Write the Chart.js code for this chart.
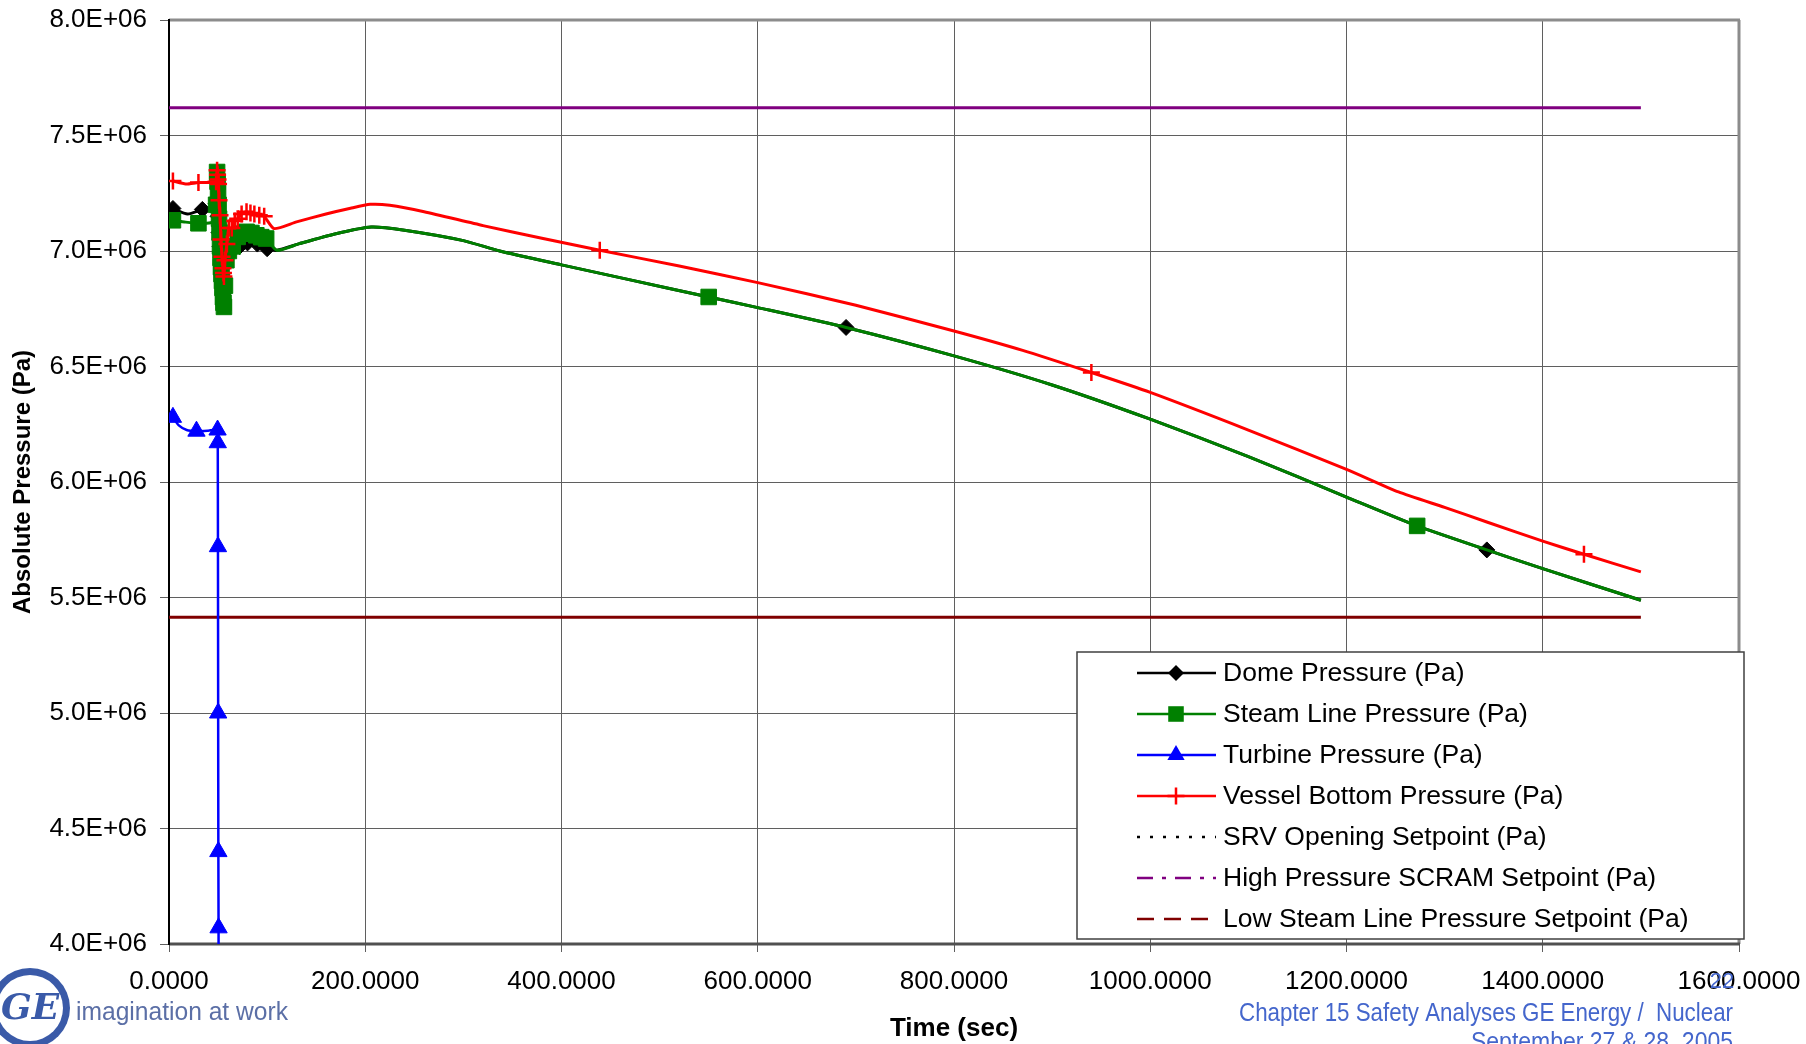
<!DOCTYPE html>
<html>
<head>
<meta charset="utf-8">
<title>Absolute Pressure vs Time</title>
<script src="https://cdn.jsdelivr.net/npm/chart.js@4.4.1/dist/chart.umd.min.js"></script>
<style>
    html, body { margin: 0; padding: 0; background: #fff; }
    #wrap { position: relative; width: 1806px; height: 1044px; overflow: hidden; }
</style>
</head>
<body>
<div id="wrap"><canvas id="pressureChart" width="1806" height="1044"></canvas></div>
<script>
// Data (pressure in units of 1E+06 Pa, time in sec)
// mark = 1 where the original shows a symbol on the sample

const domeTime = [4, 19, 34, 46, 48, 49, 50, 51, 52, 53, 54, 55, 56, 57, 59, 62, 66, 72, 80, 90,
    100, 110, 133, 170, 206, 240, 300, 337, 400, 470, 550, 600, 690, 800, 900, 1000, 1100, 1200, 1272, 1343, 1400, 1500];
const domeMPa = [7.184, 7.160, 7.180, 7.190, 7.205, 7.220, 7.150, 7.080, 7.020, 6.970, 6.946, 6.950, 6.960, 6.970, 6.990, 7.000, 7.010, 7.020, 7.035, 7.030,
    7.010, 7.003, 7.032, 7.075, 7.104, 7.090, 7.045, 7.000, 6.940, 6.875, 6.801, 6.755, 6.669, 6.546, 6.420, 6.272, 6.110, 5.935, 5.810, 5.706, 5.625, 5.488];
const domeMark = [1, 0, 1, 0, 1, 1, 1, 1, 1, 1, 1, 1, 1, 1, 1, 1, 1, 1, 1, 1,
    1, 0, 0, 0, 0, 0, 0, 0, 0, 0, 0, 0, 1, 0, 0, 0, 0, 0, 0, 1, 0, 0];

const steamTime = [4, 17, 30, 44, 48, 49, 49.5, 50, 50.5, 51, 51.5, 52, 52.5, 53, 53.5, 54, 54.5, 55, 55.5, 56,
    57, 58.5, 61, 65, 70, 75, 79, 84, 89, 94, 99, 110, 133, 170, 206, 240, 300, 337, 400, 470,
    550, 600, 690, 800, 900, 1000, 1100, 1200, 1272, 1343, 1400, 1500];
const steamMPa = [7.133, 7.125, 7.120, 7.125, 7.200, 7.342, 7.300, 7.250, 7.200, 7.140, 7.080, 7.020, 6.970, 6.930, 6.900, 6.870, 6.840, 6.800, 6.776, 6.758,
    6.850, 6.960, 7.000, 7.020, 7.061, 7.075, 7.083, 7.078, 7.068, 7.060, 7.054, 7.003, 7.032, 7.075, 7.104, 7.090, 7.045, 7.000, 6.940, 6.875,
    6.801, 6.755, 6.669, 6.546, 6.420, 6.272, 6.110, 5.935, 5.810, 5.706, 5.625, 5.488];
const steamMark = [1, 0, 1, 0, 1, 1, 1, 1, 1, 1, 1, 1, 1, 1, 1, 1, 1, 1, 1, 1,
    1, 1, 1, 1, 1, 1, 1, 1, 1, 1, 1, 0, 0, 0, 0, 0, 0, 0, 0, 0,
    1, 0, 0, 0, 0, 0, 0, 0, 1, 0, 0, 0];

const turbineTime = [4, 10, 18, 28, 40, 49.5, 49.7, 49.9, 50.1, 50.3, 50.5, 50.7];
const turbineMPa = [6.280, 6.245, 6.225, 6.220, 6.222, 6.225, 6.170, 5.720, 5.000, 4.400, 4.070, 3.500];
const turbineMark = [1, 0, 0, 1, 0, 1, 1, 1, 1, 1, 1, 0];

const vesselTime = [4, 17, 30, 44, 48, 49, 49.5, 50, 50.5, 51, 52, 53, 54, 55, 55.5, 56, 57, 59, 61, 64,
    67, 70, 74, 79, 83, 87, 92, 97, 107, 130, 160, 185, 205, 225, 260, 320, 380, 439, 520, 600,
    700, 800, 870, 940, 1000, 1100, 1200, 1253, 1300, 1343, 1400, 1442, 1500];
const vesselMPa = [7.303, 7.290, 7.296, 7.297, 7.300, 7.350, 7.330, 7.310, 7.290, 7.220, 7.155, 7.050, 6.975, 6.925, 6.905, 6.890, 6.960, 7.030, 7.100, 7.100,
    7.130, 7.140, 7.160, 7.170, 7.165, 7.160, 7.155, 7.150, 7.097, 7.126, 7.160, 7.185, 7.202, 7.198, 7.170, 7.110, 7.055, 7.003, 6.935, 6.863,
    6.765, 6.654, 6.570, 6.474, 6.388, 6.225, 6.055, 5.957, 5.890, 5.827, 5.744, 5.687, 5.611];
const vesselMark = [1, 0, 1, 0, 1, 1, 1, 1, 1, 1, 1, 1, 1, 1, 1, 1, 1, 1, 1, 1,
    1, 1, 1, 1, 1, 1, 1, 1, 0, 0, 0, 0, 0, 0, 0, 0, 0, 1, 0, 0,
    0, 0, 0, 1, 0, 0, 0, 0, 0, 0, 0, 1, 0];

// Setpoints (flat lines)
const setpointTime = [0, 1500];
const srvMPa = [8.62, 8.62];          // above the plotted range
const scramMPa = [7.62, 7.62];
const lowSteamMPa = [5.415, 5.415];

// Axes
const xTicks = [0, 200, 400, 600, 800, 1000, 1200, 1400, 1600];
const yTicksMPa = [4.0, 4.5, 5.0, 5.5, 6.0, 6.5, 7.0, 7.5, 8.0];

const FONT = '"Liberation Sans", Arial, sans-serif';
const GRID = '#5f5f5f';

// Build {x, y} points in Pa
function toPoints(times, mpa) {
    return times.map((t, i) => ({ x: t, y: mpa[i] * 1e6 }));
}

function markedRadius(mark, r) {
    return ctx => (mark[ctx.dataIndex] ? r : 0);
}

// Small symbol painter for the legend
function drawMarker(ctx, style, x, y, r, color) {
    ctx.save();
    ctx.fillStyle = color;
    ctx.strokeStyle = color;
    ctx.beginPath();
    if (style === 'rectRot') {
        ctx.moveTo(x - r, y); ctx.lineTo(x, y - r); ctx.lineTo(x + r, y); ctx.lineTo(x, y + r);
        ctx.closePath(); ctx.fill();
    } else if (style === 'rect') {
        const s = r * Math.SQRT1_2;
        ctx.rect(x - s, y - s, 2 * s, 2 * s); ctx.fill();
    } else if (style === 'triangle') {
        const w = r * Math.sin(2 * Math.PI / 3);
        ctx.moveTo(x, y - r); ctx.lineTo(x + w, y + r / 2); ctx.lineTo(x - w, y + r / 2);
        ctx.closePath(); ctx.fill();
    } else if (style === 'cross') {
        ctx.lineWidth = 2.5;
        ctx.moveTo(x - r, y); ctx.lineTo(x + r, y);
        ctx.moveTo(x, y - r); ctx.lineTo(x, y + r);
        ctx.stroke();
    }
    ctx.restore();
}

function strokeLine(ctx, x1, y1, x2, y2) {
    ctx.beginPath();
    ctx.moveTo(x1, y1);
    ctx.lineTo(x2, y2);
    ctx.stroke();
}

// Frame, legend box and slide footer
const pagePlugin = {
    id: 'pagePlugin',
    beforeDatasetsDraw(chart) {
        const { ctx, chartArea: a } = chart;
        ctx.save();
        ctx.strokeStyle = '#8c8c8c';
        ctx.lineWidth = 3;
        strokeLine(ctx, a.left, a.top, a.right + 1, a.top);
        strokeLine(ctx, a.right, a.top, a.right, a.bottom);
        ctx.strokeStyle = '#505050';
        strokeLine(ctx, a.left, a.bottom, a.right + 1, a.bottom);
        ctx.strokeStyle = '#000';
        ctx.lineWidth = 2;
        strokeLine(ctx, a.left, a.top - 1, a.left, a.bottom + 1);
        ctx.restore();
    },
    afterDraw(chart) {
        drawLegend(chart);
        drawFooter(chart);
    }
};

function drawLegend(chart) {
    const ctx = chart.ctx;
    const box = { x: 1077, y: 652, w: 667, h: 287 };
    ctx.save();
    ctx.fillStyle = '#fff';
    ctx.fillRect(box.x, box.y, box.w, box.h);
    ctx.strokeStyle = '#404040';
    ctx.lineWidth = 1.5;
    ctx.strokeRect(box.x, box.y, box.w, box.h);

    chart.data.datasets.forEach((ds, i) => {
        const y = 673 + i * 41;
        ctx.save();
        ctx.strokeStyle = ds.borderColor;
        ctx.lineWidth = 2.5;
        ctx.setLineDash(ds.legendDash || []);
        strokeLine(ctx, 1137, y, 1216, y);
        ctx.restore();
        if (ds.pointStyle) {
            drawMarker(ctx, ds.pointStyle, 1176, y, ds.legendRadius, ds.borderColor);
        }
        ctx.fillStyle = '#000';
        ctx.font = `26.5px ${FONT}`;
        ctx.textBaseline = 'middle';
        ctx.textAlign = 'left';
        ctx.fillText(ds.label, 1223, y + 1);
    });
    ctx.restore();
}

function drawFooter(chart) {
    const ctx = chart.ctx;
    ctx.save();

    // GE monogram
    ctx.beginPath();
    ctx.arc(30, 1008, 40, 0, Math.PI * 2);
    ctx.fillStyle = '#3a5aa8';
    ctx.fill();
    ctx.beginPath();
    ctx.arc(30, 1008, 33, 0, Math.PI * 2);
    ctx.fillStyle = '#fff';
    ctx.fill();
    ctx.fillStyle = '#3a5aa8';
    ctx.font = `italic bold 36px "DejaVu Serif", serif`;
    ctx.textAlign = 'center';
    ctx.textBaseline = 'middle';
    ctx.fillText('GE', 30, 1010);

    ctx.textAlign = 'left';
    ctx.textBaseline = 'alphabetic';
    ctx.fillStyle = '#5b6fa6';
    ctx.font = `25px ${FONT}`;
    ctx.fillText('imagination at work', 76, 1020, 212);

    ctx.textAlign = 'right';
    ctx.fillStyle = '#4466cc';
    ctx.font = `25px ${FONT}`;
    ctx.fillText('Chapter 15 Safety Analyses GE Energy /  Nuclear', 1733, 1021, 494);
    ctx.fillText('September 27 & 28, 2005', 1733, 1050, 262);

    ctx.textAlign = 'center';
    ctx.textBaseline = 'middle';
    ctx.font = `22px ${FONT}`;
    ctx.fillText('22', 1722, 982);
    ctx.restore();
}

const ctx = document.getElementById('pressureChart').getContext('2d');

new Chart(ctx, {
    type: 'line',
    data: {
        datasets: [
            {
                label: 'Dome Pressure (Pa)',
                data: toPoints(domeTime, domeMPa),
                borderColor: '#000000',
                backgroundColor: '#000000',
                borderWidth: 3,
                pointStyle: 'rectRot',
                pointRadius: markedRadius(domeMark, 8),
                legendRadius: 8,
                pointBorderWidth: 1,
                tension: 0.2,
                order: 4
            },
            {
                label: 'Steam Line Pressure (Pa)',
                data: toPoints(steamTime, steamMPa),
                borderColor: '#008000',
                backgroundColor: '#008000',
                borderWidth: 3,
                pointStyle: 'rect',
                pointRadius: markedRadius(steamMark, 11),
                legendRadius: 11,
                pointBorderWidth: 1,
                tension: 0.2,
                order: 3
            },
            {
                label: 'Turbine Pressure (Pa)',
                data: toPoints(turbineTime, turbineMPa),
                borderColor: '#0000ff',
                backgroundColor: '#0000ff',
                borderWidth: 2.5,
                pointStyle: 'triangle',
                pointRadius: markedRadius(turbineMark, 10),
                legendRadius: 10,
                pointBorderWidth: 1,
                tension: 0.2,
                order: 2
            },
            {
                label: 'Vessel Bottom Pressure (Pa)',
                data: toPoints(vesselTime, vesselMPa),
                borderColor: '#ff0000',
                backgroundColor: '#ff0000',
                borderWidth: 3,
                pointStyle: 'cross',
                pointRadius: markedRadius(vesselMark, 8.5),
                legendRadius: 8.5,
                pointBorderWidth: 2.5,
                tension: 0.2,
                order: 1
            },
            {
                label: 'SRV Opening Setpoint (Pa)',
                data: toPoints(setpointTime, srvMPa),
                borderColor: '#000000',
                borderWidth: 2.5,
                pointRadius: 0,
                legendDash: [3, 10],
                order: 7
            },
            {
                label: 'High Pressure SCRAM Setpoint (Pa)',
                data: toPoints(setpointTime, scramMPa),
                borderColor: '#800080',
                borderWidth: 3,
                pointRadius: 0,
                legendDash: [16, 9, 4, 9],
                order: 6
            },
            {
                label: 'Low Steam Line Pressure Setpoint (Pa)',
                data: toPoints(setpointTime, lowSteamMPa),
                borderColor: '#800000',
                borderWidth: 3,
                pointRadius: 0,
                legendDash: [17, 10],
                order: 5
            }
        ]
    },
    options: {
        responsive: false,
        animation: false,
        devicePixelRatio: 1,
        layout: { padding: { top: 20, right: 67, left: 0, bottom: 0 } },
        plugins: {
            legend: { display: false },
            tooltip: { enabled: false }
        },
        scales: {
            x: {
                type: 'linear',
                min: 0,
                max: 1600,
                // fixed band under the plot; label overhang is allowed
                afterFit: s => { s.height = 100; s.paddingLeft = 0; s.paddingRight = 0; },
                afterBuildTicks: s => { s.ticks = xTicks.map(v => ({ value: v })); },
                grid: { color: GRID, lineWidth: 1, tickLength: 8, drawOnChartArea: true },
                border: { display: false },
                ticks: {
                    color: '#000',
                    font: { family: FONT, size: 26 },
                    padding: 14,
                    maxRotation: 0,
                    autoSkip: false,
                    callback: v => v.toFixed(4)
                },
                title: {
                    display: true,
                    text: 'Time (sec)',
                    color: '#000',
                    font: { family: FONT, size: 26, weight: 'bold' },
                    padding: { top: 0, bottom: 0 }
                }
            },
            y: {
                type: 'linear',
                min: 4e6,
                max: 8e6,
                afterFit: s => { s.width = 169; s.paddingTop = 0; s.paddingBottom = 0; },
                afterBuildTicks: s => { s.ticks = yTicksMPa.map(v => ({ value: v * 1e6 })); },
                grid: { color: GRID, lineWidth: 1, tickLength: 9 },
                border: { display: false },
                ticks: {
                    color: '#000',
                    font: { family: FONT, size: 26 },
                    padding: 13,
                    autoSkip: false,
                    callback: v => (v / 1e6).toFixed(1) + 'E+06'
                },
                title: {
                    display: true,
                    text: 'Absolute Pressure (Pa)',
                    color: '#000',
                    font: { family: FONT, size: 24, weight: 'bold' },
                    padding: { top: 9, bottom: 0 }
                }
            }
        }
    },
    plugins: [pagePlugin]
});
</script>
</body>
</html>
